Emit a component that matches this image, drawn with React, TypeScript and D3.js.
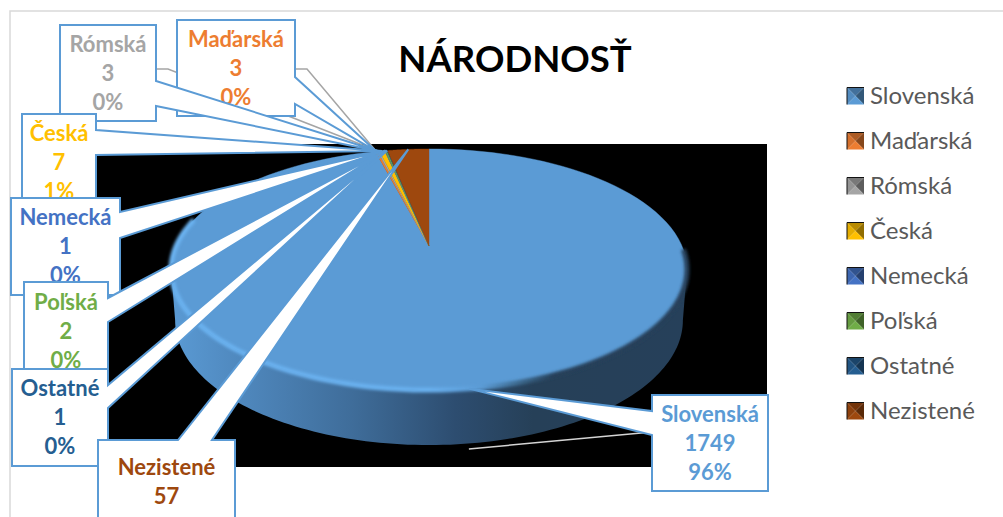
import React, { useEffect, useRef } from 'react';
import * as d3 from 'd3';

const categories = ['Slovenská', 'Maďarská', 'Rómská', 'Česká', 'Nemecká', 'Poľská', 'Ostatné', 'Nezistené'];
const counts = [1749, 3, 3, 7, 1, 2, 1, 57];
// Nezistené's percent row falls below the picture, so it has none here
const percents = ['96%', '0%', '0%', '1%', '0%', '0%', '0%', ''];
const colors = ['#5b9bd5', '#ed7d31', '#a5a5a5', '#ffc000', '#4472c4', '#70ad47', '#255e91', '#9e480e'];

// callout boxes, same order as categories
const boxes = [
  { x: 652, y: 395, w: 116, h: 96, side: 'left', base: [411, 435], pad: 27 },
  { x: 177, y: 20, w: 118, h: 96, side: 'right', base: [77, 104], pad: 27 },
  { x: 60, y: 25, w: 96, h: 96, side: 'right', base: [81, 106], pad: 27 },
  { x: 22, y: 114, w: 74, h: 98, side: 'right', base: [130, 155], pad: 27 },
  { x: 11, y: 198, w: 109, h: 97, side: 'right', base: [212, 238], pad: 27 },
  { x: 24, y: 282, w: 84, h: 98, side: 'right', base: [298, 322], pad: 28 },
  { x: 12, y: 369, w: 96, h: 97, side: 'right', base: [385, 408], pad: 27 },
  { x: 98, y: 440, w: 137, h: 100, side: 'top', base: [178, 212], pad: 35 },
];

const FONT = 'Lato, Carlito, sans-serif';
const apexX = 429;
const apexY = 246;
const tilt = 0.195;

// perspective view of the pie disc, angle is clockwise from 12 o'clock
const project = (a: number, drop = 0, sx = 253, sy = 116): [number, number] => {
  const px = Math.sin(a);
  const pz = -Math.cos(a);
  const w = 1 - tilt * pz;
  return [apexX + (sx * px) / w, apexY + drop + (sy * pz) / w];
};

const rimPoints = (start: number, end: number, drop = 0, sx = 253, sy = 116) =>
  d3.range(0, 121).map((i) => project(start + ((end - start) * i) / 120, drop, sx, sy));

const App = () => {
  const svgRef = useRef<SVGSVGElement>(null);

  useEffect(() => {
    const svg = d3.select(svgRef.current);
    svg.selectAll('*').remove();

    const color = d3.scaleOrdinal<string, string>().domain(categories).range(colors);
    const arcs = d3.pie<number>().sort(null)(counts);
    const line = d3.line();

    const defs = svg.append('defs');
    const gradient = (id: string, stops: [number, string][]) => {
      const g = defs.append('linearGradient').attr('id', id)
        .attr('gradientUnits', 'userSpaceOnUse')
        .attr('x1', 171).attr('x2', 688).attr('y1', 0).attr('y2', 0);
      stops.forEach(([o, c]) => g.append('stop').attr('offset', o).attr('stop-color', c));
    };
    gradient('wall', [[0, '#5a9ad4'], [0.15, '#4e86bb'], [0.35, '#3f6d9a'], [0.55, '#2d4d70'], [0.7, '#264058'], [1, '#26405a']]);
    gradient('rim', [[0, '#6ab2f0'], [0.5, '#69b0ee'], [0.6, '#5b9bd5'], [0.68, '#3a6588'], [0.74, '#26405a'], [1, '#26405a']]);
    defs.append('filter').attr('id', 'soft').attr('x', '-5%').attr('y', '-5%').attr('width', '110%').attr('height', '110%')
      .append('feGaussianBlur').attr('stdDeviation', 1.6);

    svg.append('rect').attr('width', 1003).attr('height', 517).attr('fill', '#fff');

    // chart frame
    svg.append('path').attr('d', 'M10,517V11H1003').attr('fill', 'none').attr('stroke', '#d9d9d9').attr('stroke-width', 1.5);

    // black plot area
    svg.append('rect').attr('x', 96).attr('y', 144).attr('width', 671).attr('height', 323).attr('fill', '#000');

    // side wall
    const edge = Math.acos(-tilt);
    const front = rimPoints(edge, 2 * Math.PI - edge);
    const frontLow = rimPoints(edge, 2 * Math.PI - edge, 50, 249, 120).reverse();
    svg.append('path').attr('d', line([...front, ...frontLow]) + 'Z').attr('fill', 'url(#wall)');

    // top face
    arcs.forEach((d, i) => {
      const pts = rimPoints(d.startAngle, d.endAngle);
      svg.append('path')
        .attr('d', line([[apexX, apexY], ...pts]) + 'Z')
        .attr('fill', color(categories[i]))
        .attr('stroke', color(categories[i]))
        .attr('stroke-width', 0.4);
    });

    // soft bevel along the front edge
    svg.append('path')
      .attr('d', line(rimPoints(1.6, 4.95)))
      .attr('fill', 'none')
      .attr('stroke', 'url(#rim)')
      .attr('stroke-width', 5)
      .attr('filter', 'url(#soft)');

    // leader lines
    const leader = d3.line().curve(d3.curveLinear);
    const tips = arcs.map((d) => project((d.startAngle + d.endAngle) / 2));
    const leaders: [number, number][][] = [
      [[tips[0][0], 449], [652, 432]],
      [[295, 69], [307, 69], tips[1]],
      [[156, 69], [168, 69], tips[2]],
    ];
    leaders.forEach((l, i) => {
      svg.append('path').attr('d', leader(l)).attr('fill', 'none')
        .attr('stroke', i === 0 ? '#d4d4d4' : '#a5a5a5').attr('stroke-width', 1.5);
    });

    // callouts, later ones cover the earlier ones
    boxes.forEach((b, i) => {
      const tip = tips[i];
      const r = b.x + b.w;
      const bot = b.y + b.h;
      const p = d3.path();
      p.moveTo(b.x, b.y);
      if (b.side === 'top') {
        p.lineTo(b.base[0], b.y);
        p.lineTo(tip[0], tip[1]);
        p.lineTo(b.base[1], b.y);
      }
      p.lineTo(r, b.y);
      if (b.side === 'right') {
        p.lineTo(r, b.base[0]);
        p.lineTo(tip[0], tip[1]);
        p.lineTo(r, b.base[1]);
      }
      p.lineTo(r, bot);
      p.lineTo(b.x, bot);
      if (b.side === 'left') {
        p.lineTo(b.x, b.base[1]);
        p.lineTo(tip[0], tip[1]);
        p.lineTo(b.x, b.base[0]);
      }
      p.closePath();
      svg.append('path').attr('d', p.toString()).attr('fill', '#fff')
        .attr('stroke', '#5b9bd5').attr('stroke-width', 2).attr('stroke-linejoin', 'miter');

      const rows = [categories[i], String(counts[i]), percents[i]].filter((t) => t !== '');
      svg.selectAll(null).data(rows).enter().append('text')
        .attr('x', b.x + b.w / 2)
        .attr('y', (_, k) => b.y + b.pad + k * 29)
        .attr('text-anchor', 'middle')
        .attr('font-family', FONT)
        .attr('font-weight', 700)
        .attr('font-size', 22)
        .attr('fill', color(categories[i]))
        .text((t) => t);
    });

    // title
    svg.append('text').attr('x', 515).attr('y', 72).attr('text-anchor', 'middle')
      .attr('font-family', FONT).attr('font-weight', 700).attr('font-size', 36.5).attr('fill', '#000')
      .text('NÁRODNOSŤ');

    // legend
    const legendY = d3.scalePoint<string>().domain(categories).range([96, 411]);
    categories.forEach((c) => {
      const y = legendY(c) as number;
      const base = d3.color(color(c)) as d3.RGBColor;
      const x0 = 847, s = 17, top = y - 8.5;
      const g = svg.append('g');
      const cx = x0 + s / 2, cy = top + s / 2;
      const tri = (a: [number, number], b: [number, number], fill: string) =>
        g.append('path').attr('d', line([a, b, [cx, cy]]) + 'Z').attr('fill', fill);
      tri([x0, top], [x0 + s, top], base.darker(0.9).toString());
      tri([x0 + s, top], [x0 + s, top + s], base.darker(1.6).toString());
      tri([x0 + s, top + s], [x0, top + s], base.toString());
      tri([x0, top + s], [x0, top], base.darker(0.3).toString());
      g.append('path').attr('d', `M${x0},${top + s}V${top}H${x0 + s}`).attr('fill', 'none').attr('stroke', '#111').attr('stroke-width', 1);
      svg.append('text').attr('x', 870).attr('y', y + 8)
        .attr('font-family', FONT).attr('font-size', 24).attr('fill', '#595959').text(c);
    });
  }, []);

  return <svg ref={svgRef} width={1003} height={517} style={{ position: 'absolute', left: 0, top: 0, display: 'block' }} />;
};

export default App;
